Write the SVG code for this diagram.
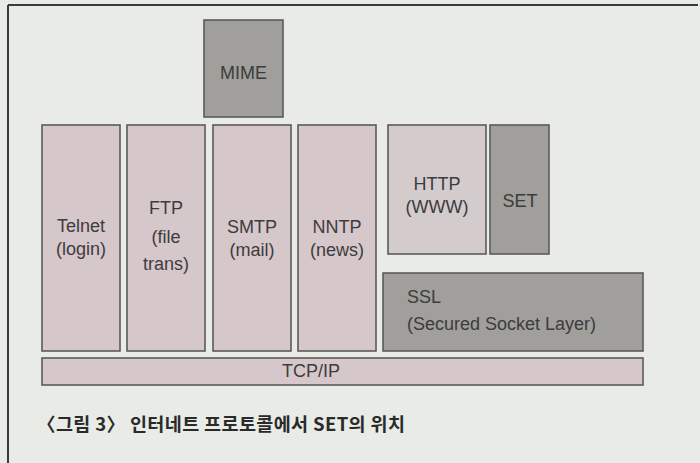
<svg xmlns="http://www.w3.org/2000/svg" width="700" height="463" viewBox="0 0 700 463">
<style>
.box{stroke:#5a5a5a;stroke-width:1.6}
.pink{fill:#d6c7cb}
.lpink{fill:#d4cbcd}
.dark{fill:#a09f9b}
.t{font-family:"Liberation Sans",Arial,sans-serif;font-size:18px;fill:#3c3c3c;text-anchor:middle}
.l{text-anchor:start}
.cap{font-family:"Noto Sans CJK KR","Liberation Sans",sans-serif;font-size:18.5px;font-weight:bold;fill:#2a2a2a}
</style>
<rect x="0" y="0" width="700" height="463" fill="#e8ebe6"/>
<g id="frame" fill="none" stroke="#3a3a3a" stroke-width="2">
<line x1="8" y1="5" x2="698" y2="5"/>
<line x1="8" y1="5" x2="8" y2="463"/>
</g>
<g id="mime"><rect class="box dark" x="204" y="20" width="79" height="97"/><text class="t" x="243.5" y="79">MIME</text></g>
<g id="telnet"><rect class="box pink" x="42" y="125" width="78" height="226"/><text class="t" x="81" y="232">Telnet</text><text class="t" x="81" y="255">(login)</text></g>
<g id="ftp"><rect class="box pink" x="127" y="125" width="78" height="226"/><text class="t" x="166" y="214">FTP</text><text class="t" x="166" y="243">(file</text><text class="t" x="166" y="270">trans)</text></g>
<g id="smtp"><rect class="box pink" x="213" y="125" width="78" height="226"/><text class="t" x="252" y="233">SMTP</text><text class="t" x="252" y="256">(mail)</text></g>
<g id="nntp"><rect class="box pink" x="298" y="125" width="78" height="226"/><text class="t" x="337" y="233">NNTP</text><text class="t" x="337" y="256">(news)</text></g>
<g id="http"><rect class="box lpink" x="388" y="125" width="98" height="129"/><text class="t" x="437" y="190">HTTP</text><text class="t" x="437" y="213">(WWW)</text></g>
<g id="set"><rect class="box dark" x="490" y="125" width="59" height="129"/><text class="t" x="520" y="207">SET</text></g>
<g id="ssl"><rect class="box dark" x="383" y="273" width="260" height="78"/><text class="t l" x="407" y="303">SSL</text><text class="t l" x="407" y="330">(Secured Socket Layer)</text></g>
<g id="tcpip"><rect class="box pink" x="42" y="358" width="601" height="27"/><text class="t" x="311" y="377">TCP/IP</text></g>
<g id="connectors"></g>
<text class="cap" x="37" y="431" textLength="368" lengthAdjust="spacing">〈그림 3〉 인터네트 프로토콜에서 SET의 위치</text>
</svg>
